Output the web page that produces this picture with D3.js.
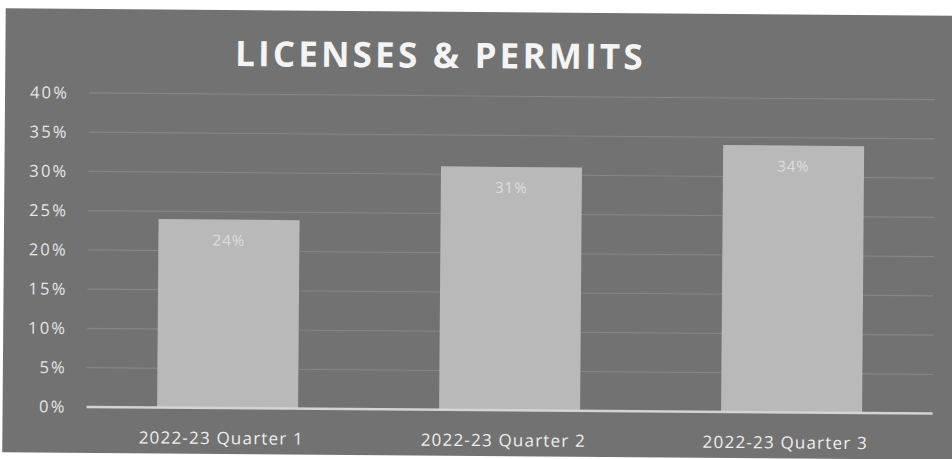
<!DOCTYPE html>
<html>
<head>
<meta charset="utf-8">
<script src="https://cdn.jsdelivr.net/npm/d3@7"></script>
<style>
  html, body { margin: 0; padding: 0; background: #ffffff; }
  svg { display: block; }
</style>
</head>
<body>
<svg id="chart" width="952" height="459"></svg>
<script>
// Share of annual licenses & permits revenue collected, by quarter
const title = "LICENSES & PERMITS";
const categories = ["2022-23 Quarter 1", "2022-23 Quarter 2", "2022-23 Quarter 3"];
const values = [24, 31, 34];
const valueLabels = ["24%", "31%", "34%"];
const yTicks = [0, 5, 10, 15, 20, 25, 30, 35, 40];

const W = 952, H = 459;
const svg = d3.select("#chart");

// the whole slide sits at a slight tilt
const g = svg.append("g").attr("transform", "rotate(0.45 476 230)");

g.append("rect")
  .attr("x", 4).attr("y", 12)
  .attr("width", W + 20).attr("height", 444)
  .attr("fill", "#727272");

const plot = { left: 88, right: 934, top: 96, bottom: 410 };

const x = d3.scaleBand()
  .domain(categories)
  .range([plot.left, plot.right])
  .paddingInner(0.5)
  .paddingOuter(0.25);

const y = d3.scaleLinear()
  .domain([0, 40])
  .range([plot.bottom, plot.top]);

// gridlines
g.append("g")
  .selectAll("line")
  .data(yTicks.filter(d => d > 0))
  .join("line")
  .attr("x1", plot.left).attr("x2", plot.right)
  .attr("y1", d => y(d)).attr("y2", d => y(d))
  .attr("stroke", "#868686")
  .attr("stroke-width", 1.2);

// y axis labels
const yAxis = d3.axisLeft(y)
  .tickValues(yTicks)
  .tickFormat(d => d + "%")
  .tickSize(0)
  .tickPadding(0);
const ya = g.append("g")
  .attr("transform", `translate(68,0)`)
  .call(yAxis);
ya.select(".domain").remove();
ya.selectAll("text")
  .attr("fill", "#e6e6e6")
  .attr("font-family", "'Open Sans', sans-serif")
  .attr("font-size", 16.5)
  .attr("letter-spacing", 2.2);

// bars
g.append("g")
  .selectAll("rect")
  .data(values)
  .join("rect")
  .attr("x", (d, i) => x(categories[i]))
  .attr("y", d => y(d))
  .attr("width", x.bandwidth())
  .attr("height", d => y(0) - y(d))
  .attr("fill", "#b9b9b9");

// value labels inside bars
g.append("g")
  .selectAll("text")
  .data(values)
  .join("text")
  .attr("x", (d, i) => x(categories[i]) + x.bandwidth() / 2)
  .attr("y", d => y(d) + 26)
  .attr("text-anchor", "middle")
  .attr("fill", "#dedede")
  .attr("font-family", "'Open Sans', sans-serif")
  .attr("font-size", 15)
  .attr("letter-spacing", 1)
  .text((d, i) => valueLabels[i]);

// baseline
g.append("line")
  .attr("x1", plot.left).attr("x2", plot.right)
  .attr("y1", y(0)).attr("y2", y(0))
  .attr("stroke", "#d4d4d4")
  .attr("stroke-width", 2.5);

// category axis
const xAxis = d3.axisBottom(x).tickSize(0).tickPadding(0);
const xa = g.append("g")
  .attr("transform", `translate(-6,${y(0) + 24})`)
  .call(xAxis);
xa.select(".domain").remove();
xa.selectAll("text")
  .attr("fill", "#eeeeee")
  .attr("font-family", "'Open Sans', sans-serif")
  .attr("font-size", 17)
  .attr("letter-spacing", 1.2);

// title
g.append("text")
  .attr("x", 439)
  .attr("y", 68)
  .attr("text-anchor", "middle")
  .attr("fill", "#f4f4f4")
  .attr("font-family", "'Open Sans', sans-serif")
  .attr("font-weight", "bold")
  .attr("font-size", 35)
  .attr("letter-spacing", 3.2)
  .text(title);
</script>
</body>
</html>
